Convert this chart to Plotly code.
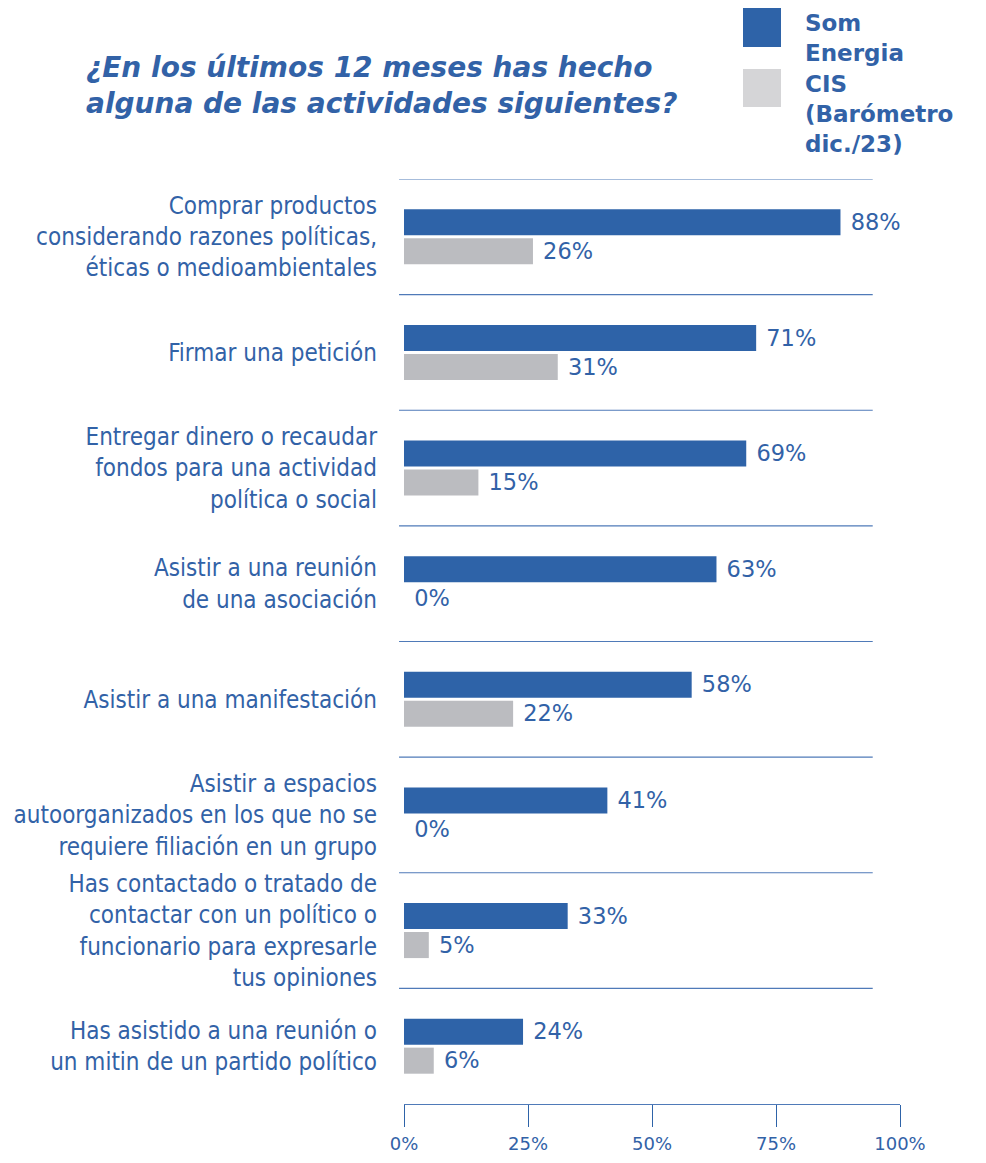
import plotly.graph_objects as go

# Data
activities = [
    "Comprar productos<br>considerando razones políticas,<br>éticas o medioambientales",
    "Firmar una petición",
    "Entregar dinero o recaudar<br>fondos para una actividad<br>política o social",
    "Asistir a una reunión<br>de una asociación",
    "Asistir a una manifestación",
    "Asistir a espacios<br>autoorganizados en los que no se<br>requiere filiación en un grupo",
    "Has contactado o tratado de<br>contactar con un político o<br>funcionario para expresarle<br>tus opiniones",
    "Has asistido a una reunión o<br>un mitin de un partido político",
]
som_energia = [88, 71, 69, 63, 58, 41, 33, 24]
cis = [26, 31, 15, 0, 22, 0, 5, 6]
x_ticks = [0, 25, 50, 75, 100]

BLUE = "#2E63A8"
TEXT_BLUE = "#3262A7"
GREY = "#BBBCC0"
GREY_LEGEND = "#D5D5D7"
LINE_BLUE = "#4F7AB8"
WIDE = "DejaVu Sans, Verdana, sans-serif"
NARROW = "Liberation Sans Narrow, DejaVu Sans Condensed, Roboto, sans-serif"

# page has an 8px body margin, so the figure is 16px smaller than the window
PAGE = 8
W, H = 986 - 2 * PAGE, 1163 - 2 * PAGE
L, R, T, B = 404 - PAGE, 900 - PAGE, 179 - PAGE, 1104 - PAGE  # plot area, figure pixels


def px(x):
    return (x - PAGE - L) / (R - L)


def py(y):
    return (B - (y - PAGE)) / (B - T)


fig = go.Figure()
for name, vals, color in [("Som Energia", som_energia, BLUE), ("CIS (Barómetro dic./23)", cis, GREY)]:
    fig.add_bar(
        y=activities, x=vals, orientation="h", name=name,
        marker=dict(color=color, line=dict(width=0)),
        text=[f"{v}%" for v in vals], texttemplate="\u00a0%{text}",
        textposition="outside", cliponaxis=False,
        textfont=dict(family=WIDE, size=25, color=TEXT_BLUE),
    )

# separator lines between the activity bands
shapes = []
for i in range(len(activities)):
    shapes.append(dict(type="line", xref="paper", yref="y", x0=-0.01, x1=0.945,
                       y0=i - 0.5, y1=i - 0.5, line=dict(color=LINE_BLUE, width=1.2)))

# hand-drawn legend, top right
shapes.append(dict(type="rect", xref="paper", yref="paper", x0=px(743), x1=px(781),
                   y0=py(47), y1=py(8), fillcolor=BLUE, line=dict(width=0)))
shapes.append(dict(type="rect", xref="paper", yref="paper", x0=px(743), x1=px(781),
                   y0=py(107), y1=py(69), fillcolor=GREY_LEGEND, line=dict(width=0)))

annotations = []
for txt, yy, anchor in [("Som<br>Energia", 9, "top"), ("CIS<br>(Barómetro<br>dic./23)", 114, "middle")]:
    annotations.append(dict(text=f"<b>{txt}</b>", xref="paper", yref="paper", x=px(804), y=py(yy),
                            xanchor="left", yanchor=anchor, align="left", showarrow=False,
                            borderpad=0, font=dict(family=WIDE, size=23, color=TEXT_BLUE)))

annotations.append(dict(
    text="<b><i>¿En los últimos 12 meses has hecho<br>alguna de las actividades siguientes?</i></b>",
    xref="paper", yref="paper", x=px(84), y=py(86), xanchor="left", yanchor="middle",
    align="left", showarrow=False,
    font=dict(family=WIDE, size=28, color=TEXT_BLUE),
))

fig.update_layout(
    width=W, height=H,
    margin=dict(l=L, r=W - R, t=T, b=H - B, autoexpand=False),
    paper_bgcolor="white", plot_bgcolor="white",
    barmode="group", bargap=0.499, bargroupgap=0.1,
    showlegend=False,
    shapes=shapes, annotations=annotations,
    xaxis=dict(range=[0, 100], tickvals=x_ticks, ticktext=[f"{t}%" for t in x_ticks],
               showgrid=False, zeroline=False, automargin=False,
               showline=True, linecolor=LINE_BLUE, linewidth=1.2,
               ticks="outside", ticklen=22, tickwidth=1.2, tickcolor=BLUE, ticklabelstandoff=1,
               tickfont=dict(family=WIDE, size=18, color=TEXT_BLUE)),
    yaxis=dict(autorange=False, range=[len(activities) - 0.5, -0.5], showgrid=False, zeroline=False,
               showline=False, ticks="", ticklabelstandoff=26, automargin=False,
               tickfont=dict(family=NARROW, size=24, color=TEXT_BLUE)),
)

fig.write_html("out.html")
